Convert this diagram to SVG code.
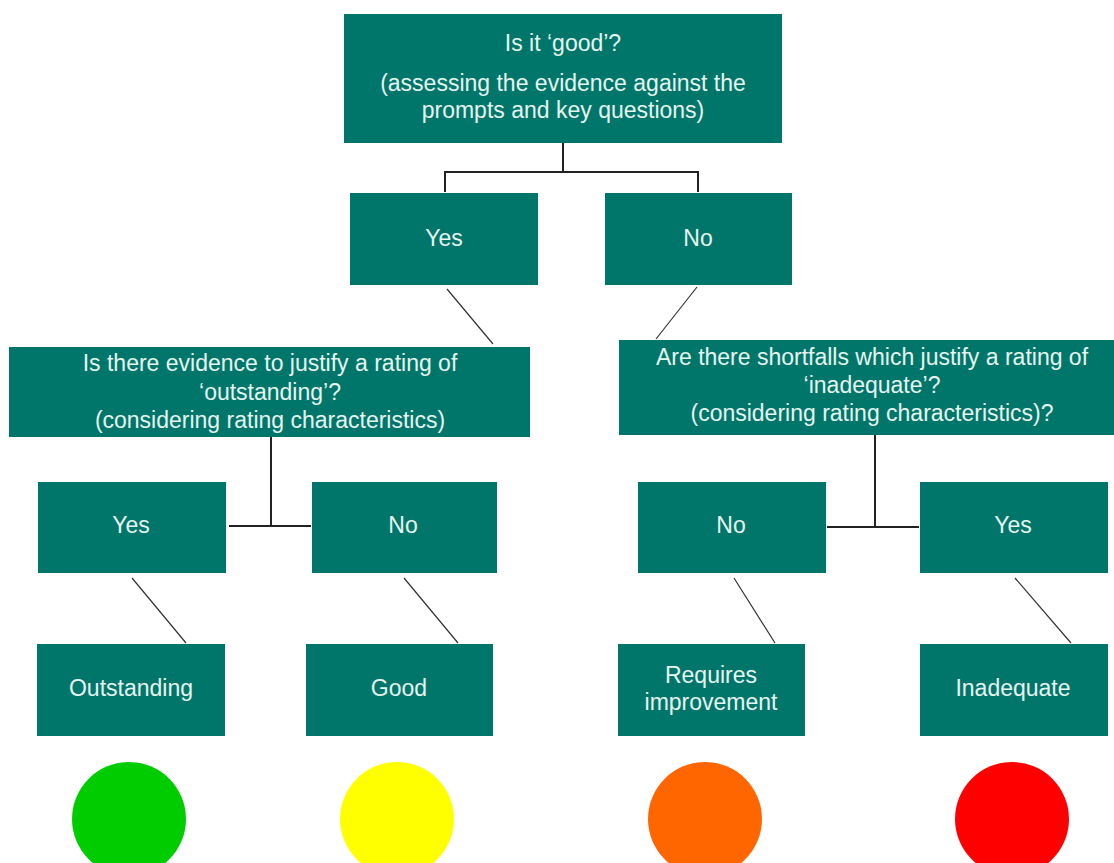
<svg xmlns="http://www.w3.org/2000/svg" width="1114" height="863" viewBox="0 0 1114 863">
<style>
.box{fill:#00766b}
.t{font-family:"Liberation Sans",Arial,sans-serif;font-size:23px;fill:#e6f5ef;text-anchor:middle}
.c{stroke:#222;stroke-width:2;fill:none}
.d{stroke:#333;stroke-width:1.2;fill:none}
</style>
<rect width="1114" height="863" fill="#fff"/>
<g id="connectors">
<path class="c" d="M563 143V172M445 192V172H698V192"/>
<path class="d" d="M447 289L493 344M697 287L656 339"/>
<path class="c" d="M271 437V526M229 526H311"/>
<path class="c" d="M875 435V527M827 527H919"/>
<path class="d" d="M132 578L186 643M404 578L458 643M734 578L775 643M1015 578L1071 643"/>
</g>
<g id="q1"><rect class="box" x="344" y="14" width="438" height="129"/>
<text class="t" x="563" y="51">Is it ‘good’?</text>
<text class="t" x="563" y="91">(assessing the evidence against the</text>
<text class="t" x="563" y="118">prompts and key questions)</text></g>
<g id="yes1"><rect class="box" x="350" y="193" width="188" height="92"/><text class="t" x="444" y="246">Yes</text></g>
<g id="no1"><rect class="box" x="605" y="193" width="187" height="92"/><text class="t" x="698" y="246">No</text></g>
<g id="q2"><rect class="box" x="9" y="347" width="521" height="90"/>
<text class="t" x="270" y="371">Is there evidence to justify a rating of</text>
<text class="t" x="270" y="400">‘outstanding’?</text>
<text class="t" x="270" y="428">(considering rating characteristics)</text></g>
<g id="q3"><rect class="box" x="619" y="340" width="495" height="95"/>
<text class="t" x="872" y="365">Are there shortfalls which justify a rating of</text>
<text class="t" x="872" y="393">‘inadequate’?</text>
<text class="t" x="872" y="421">(considering rating characteristics)?</text></g>
<g id="yes2"><rect class="box" x="38" y="482" width="188" height="91"/><text class="t" x="131" y="533">Yes</text></g>
<g id="no2"><rect class="box" x="312" y="482" width="185" height="91"/><text class="t" x="403" y="533">No</text></g>
<g id="no3"><rect class="box" x="638" y="482" width="188" height="91"/><text class="t" x="731" y="533">No</text></g>
<g id="yes3"><rect class="box" x="920" y="482" width="188" height="91"/><text class="t" x="1013" y="533">Yes</text></g>
<g id="outstanding"><rect class="box" x="37" y="644" width="188" height="92"/><text class="t" x="131" y="696">Outstanding</text></g>
<g id="good"><rect class="box" x="306" y="644" width="187" height="92"/><text class="t" x="399" y="696">Good</text></g>
<g id="requires"><rect class="box" x="618" y="644" width="187" height="92"/><text class="t" x="711" y="683">Requires</text><text class="t" x="711" y="710">improvement</text></g>
<g id="inadequate"><rect class="box" x="920" y="644" width="188" height="92"/><text class="t" x="1013" y="696">Inadequate</text></g>
<g id="lights">
<ellipse cx="129" cy="819" rx="57" ry="57" fill="#00cc00"/>
<ellipse cx="397" cy="819" rx="57" ry="57" fill="#ffff00"/>
<ellipse cx="705" cy="819" rx="57" ry="57" fill="#ff6600"/>
<ellipse cx="1012" cy="819" rx="57" ry="57" fill="#ff0000"/>
</g>
</svg>
